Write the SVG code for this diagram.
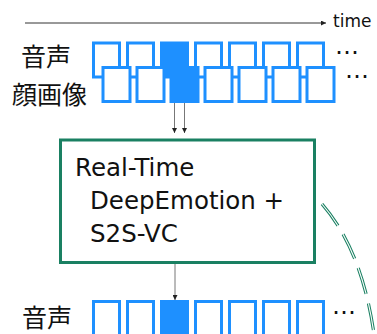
<svg xmlns="http://www.w3.org/2000/svg" width="377" height="334" viewBox="0 0 377 334">
<defs>
<style>
.fr{fill:#fff;stroke:#1E90FF;stroke-width:3}
.on{fill:#1E90FF;stroke:#1E90FF;stroke-width:3}
.jp{font-family:"Noto Sans CJK JP","Noto Sans",sans-serif;font-size:25px;fill:#111}
.lat{font-family:"DejaVu Sans",sans-serif;fill:#111}
.dots{font-family:"DejaVu Sans",sans-serif;font-size:24px;fill:#111;text-anchor:middle}
.ar{stroke:#777;stroke-width:1;fill:none}
</style>
<marker id="ah" viewBox="0 0 10 10" refX="10" refY="5" markerWidth="5" markerHeight="5" orient="auto" markerUnits="userSpaceOnUse">
<path d="M0,0 L10,5 L0,10 z" fill="#222"/>
</marker>
</defs>
<g id="timeline">
<line x1="25" y1="23" x2="326" y2="23" stroke="#333" stroke-width="1" marker-end="url(#ah)"/>
<text class="lat" x="333" y="27" font-size="17">time</text>
</g>
<g id="labels">
<text class="jp" x="21" y="66">音声</text>
<text class="jp" x="12" y="104">顔画像</text>
<text class="jp" x="22" y="327">音声</text>
</g>
<g id="audio-in">
<rect class="fr" x="93.5" y="43" width="26" height="34"/>
<rect class="fr" x="127.5" y="43" width="26" height="34"/>
<rect class="on" x="161.5" y="43" width="26" height="34"/>
<rect class="fr" x="195.5" y="43" width="26" height="34"/>
<rect class="fr" x="229.5" y="43" width="26" height="34"/>
<rect class="fr" x="263.5" y="43" width="26" height="34"/>
<rect class="fr" x="297.5" y="43" width="26" height="34"/>
<text class="dots" x="347" y="54">…</text>
</g>
<g id="face-in">
<rect class="fr" x="103" y="67.5" width="27" height="34"/>
<rect class="fr" x="137" y="67.5" width="27" height="34"/>
<rect class="on" x="171" y="67.5" width="27" height="34"/>
<rect class="fr" x="205" y="67.5" width="27" height="34"/>
<rect class="fr" x="239" y="67.5" width="27" height="34"/>
<rect class="fr" x="273" y="67.5" width="27" height="34"/>
<rect class="fr" x="307" y="67.5" width="27" height="34"/>
<text class="dots" x="357" y="78">…</text>
</g>
<g id="model">
<rect x="60.5" y="140" width="254" height="122.5" fill="#fff" stroke="#1a8062" stroke-width="3"/>
<text class="lat" font-size="24.5" x="75" y="176">Real-Time</text>
<text class="lat" font-size="24.5" x="90" y="209">DeepEmotion +</text>
<text class="lat" font-size="24.5" x="90" y="242">S2S-VC</text>
</g>
<g id="audio-out">
<rect class="fr" x="93.5" y="301.5" width="26" height="34"/>
<rect class="fr" x="127.5" y="301.5" width="26" height="34"/>
<rect class="on" x="161.5" y="301.5" width="26" height="34"/>
<rect class="fr" x="195.5" y="301.5" width="26" height="34"/>
<rect class="fr" x="229.5" y="301.5" width="26" height="34"/>
<rect class="fr" x="263.5" y="301.5" width="26" height="34"/>
<rect class="fr" x="297.5" y="301.5" width="26" height="34"/>
<text class="dots" x="344" y="314">…</text>
</g>
<g id="connectors">
<line class="ar" x1="174.5" y1="103" x2="174.5" y2="133" marker-end="url(#ah)"/>
<line class="ar" x1="184.5" y1="103" x2="184.5" y2="133" marker-end="url(#ah)"/>
<line class="ar" x1="175" y1="264" x2="175" y2="300" marker-end="url(#ah)"/>
<path d="M322,204 Q362,250 374,334" fill="none" stroke="#1a8062" stroke-width="3.2" stroke-dasharray="27 10"/>
<path d="M322,204 Q362,250 374,334" fill="none" stroke="#fff" stroke-width="1.1" stroke-dasharray="27 10"/>
</g>
</svg>
